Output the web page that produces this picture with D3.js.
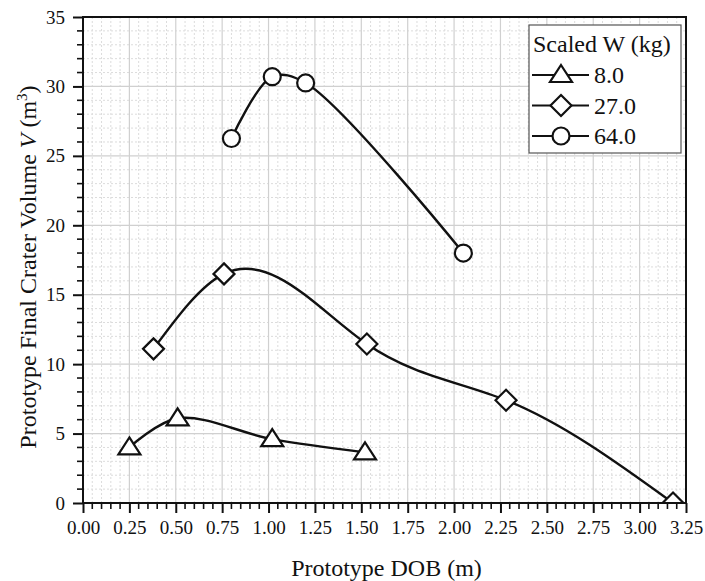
<!DOCTYPE html>
<html>
<head>
<meta charset="utf-8">
<script src="https://cdn.jsdelivr.net/npm/d3@7"></script>
<style>
  html, body { margin: 0; padding: 0; background: #fff; }
  svg { display: block; }
  text { font-family: "Liberation Serif", "Times New Roman", serif; fill: #111; }
</style>
</head>
<body>
<svg id="chart" width="705" height="581"></svg>
<script>
// Prototype DOB (m) vs. final crater volume (m^3) for three scaled charge weights
const dob8  = [0.25, 0.51, 1.02, 1.52];
const vol8  = [4.0, 6.1, 4.6, 3.65];
const dob27 = [0.38, 0.76, 1.53, 2.28, 3.18];
const vol27 = [11.1, 16.5, 11.45, 7.4, 0.0];
const dob64 = [0.80, 1.02, 1.20, 2.05];
const vol64 = [26.25, 30.7, 30.25, 18.0];

const seriesLabels = ["8.0", "27.0", "64.0"];
const seriesSymbols = ["triangle", "diamond", "circle"];
const xTickValues = [0, 0.25, 0.5, 0.75, 1, 1.25, 1.5, 1.75, 2, 2.25, 2.5, 2.75, 3, 3.25];
const yTickValues = [0, 5, 10, 15, 20, 25, 30, 35];

// Curve factory: natural cubic spline y(x), emitted as exact Bezier segments
function NaturalSplineX(context) { this._context = context; }
NaturalSplineX.prototype = {
  areaStart() {}, areaEnd() {},
  lineStart() { this._x = []; this._y = []; },
  point(px, py) { this._x.push(+px); this._y.push(+py); },
  lineEnd() {
    const X = this._x, Y = this._y, n = X.length, c = this._context;
    if (!n) return;
    c.moveTo(X[0], Y[0]);
    if (n === 2) { c.lineTo(X[1], Y[1]); return; }
    const h = [], M = new Array(n).fill(0);
    for (let i = 0; i < n - 1; i++) h.push(X[i + 1] - X[i]);
    const m = n - 2, a = [], b = [], cc = [], d = [];
    for (let i = 1; i <= m; i++) {
      a.push(h[i - 1]); b.push(2 * (h[i - 1] + h[i])); cc.push(h[i]);
      d.push(6 * ((Y[i + 1] - Y[i]) / h[i] - (Y[i] - Y[i - 1]) / h[i - 1]));
    }
    for (let i = 1; i < m; i++) {
      const w = a[i] / b[i - 1];
      b[i] -= w * cc[i - 1]; d[i] -= w * d[i - 1];
    }
    const sol = new Array(m);
    sol[m - 1] = d[m - 1] / b[m - 1];
    for (let i = m - 2; i >= 0; i--) sol[i] = (d[i] - cc[i] * sol[i + 1]) / b[i];
    for (let i = 0; i < m; i++) M[i + 1] = sol[i];
    for (let i = 0; i < n - 1; i++) {
      const s = (Y[i + 1] - Y[i]) / h[i];
      const m0 = s - h[i] * (2 * M[i] + M[i + 1]) / 6;
      const m1 = s + h[i] * (M[i] + 2 * M[i + 1]) / 6;
      c.bezierCurveTo(X[i] + h[i] / 3, Y[i] + m0 * h[i] / 3,
                      X[i + 1] - h[i] / 3, Y[i + 1] - m1 * h[i] / 3,
                      X[i + 1], Y[i + 1]);
    }
  }
};
const curveNaturalX = context => new NaturalSplineX(context);

const series = [
  { label: seriesLabels[0], symbol: seriesSymbols[0], curve: d3.curveCatmullRom.alpha(0.5), pts: dob8.map((d, i) => [d, vol8[i]]) },
  { label: seriesLabels[1], symbol: seriesSymbols[1], curve: curveNaturalX, pts: dob27.map((d, i) => [d, vol27[i]]) },
  { label: seriesLabels[2], symbol: seriesSymbols[2], curve: d3.curveCatmullRom.alpha(0.5), pts: dob64.map((d, i) => [d, vol64[i]]) }
];

const svg = d3.select("#chart");
const L = 83, R = 686, T = 17, B = 503;

const x = d3.scaleLinear().domain([0, 3.25]).range([L, R]);
const y = d3.scaleLinear().domain([0, 35]).range([B, T]);

// grid: dashed minor lines, solid light major lines
const minorX = d3.range(0, 3.2501, 0.05).filter(v => Math.abs(v / 0.25 - Math.round(v / 0.25)) > 1e-6);
const minorY = d3.range(0, 35.001, 1).filter(v => v % 5 !== 0);
const grid = svg.append("g");
grid.selectAll(".mx").data(minorX).join("line")
  .attr("x1", d => x(d)).attr("x2", d => x(d)).attr("y1", T).attr("y2", B)
  .attr("stroke", "#dcdcdc").attr("stroke-width", 1).attr("stroke-dasharray", "2,2");
grid.selectAll(".my").data(minorY).join("line")
  .attr("x1", L).attr("x2", R).attr("y1", d => y(d)).attr("y2", d => y(d))
  .attr("stroke", "#dcdcdc").attr("stroke-width", 1).attr("stroke-dasharray", "2,2");
grid.selectAll(".Mx").data(xTickValues.slice(1, -1)).join("line")
  .attr("x1", d => x(d)).attr("x2", d => x(d)).attr("y1", T).attr("y2", B)
  .attr("stroke", "#d0d0d0").attr("stroke-width", 1.2);
grid.selectAll(".My").data(yTickValues.slice(1, -1)).join("line")
  .attr("x1", L).attr("x2", R).attr("y1", d => y(d)).attr("y2", d => y(d))
  .attr("stroke", "#d0d0d0").attr("stroke-width", 1.2);

// clip for data marks
svg.append("clipPath").attr("id", "plotclip")
  .append("rect").attr("x", L).attr("y", T).attr("width", R - L).attr("height", B - T);

const symbolPath = {
  triangle: () => "M0,-10L11,7L-11,7Z",
  diamond: () => "M0,-10.5L10.5,0L0,10.5L-10.5,0Z",
  circle: () => d3.symbol().type(d3.symbolCircle).size(Math.PI * 8.5 * 8.5)()
};

const dataG = svg.append("g").attr("clip-path", "url(#plotclip)");
series.forEach(s => {
  const line = d3.line().x(d => x(d[0])).y(d => y(d[1])).curve(s.curve);
  dataG.append("path").datum(s.pts).attr("d", line)
    .attr("fill", "none").attr("stroke", "#111").attr("stroke-width", 2.4);
});
series.forEach(s => {
  dataG.selectAll(null).data(s.pts).join("path")
    .attr("transform", d => `translate(${x(d[0])},${y(d[1])})`)
    .attr("d", symbolPath[s.symbol]())
    .attr("fill", "#fff").attr("stroke", "#111").attr("stroke-width", 2.2);
});

// frame
svg.append("rect").attr("x", L).attr("y", T).attr("width", R - L).attr("height", B - T)
  .attr("fill", "none").attr("stroke", "#111").attr("stroke-width", 2);

// x axis
const xAxis = d3.axisBottom(x).tickValues(xTickValues).tickFormat(d3.format(".2f")).tickSize(10).tickPadding(8);
const gx = svg.append("g").attr("transform", `translate(0,${B})`).call(xAxis);
gx.select(".domain").remove();
gx.selectAll(".tick line").attr("stroke", "#111").attr("stroke-width", 2);
gx.selectAll(".tick text").attr("font-size", 19).attr("font-family", "Liberation Serif").attr("fill", "#111");
gx.append("g").selectAll("line").data(minorX).join("line")
  .attr("x1", d => x(d)).attr("x2", d => x(d)).attr("y1", 0).attr("y2", 6)
  .attr("stroke", "#111").attr("stroke-width", 1.6);

// y axis
const yAxis = d3.axisLeft(y).tickValues(yTickValues).tickFormat(d3.format("d")).tickSize(10).tickPadding(8);
const gy = svg.append("g").attr("transform", `translate(${L},0)`).call(yAxis);
gy.select(".domain").remove();
gy.selectAll(".tick line").attr("stroke", "#111").attr("stroke-width", 2);
gy.selectAll(".tick text").attr("font-size", 19).attr("font-family", "Liberation Serif").attr("fill", "#111");
gy.append("g").selectAll("line").data(minorY).join("line")
  .attr("x1", -6).attr("x2", 0).attr("y1", d => y(d)).attr("y2", d => y(d))
  .attr("stroke", "#111").attr("stroke-width", 1.6);

// axis titles
svg.append("text").attr("x", (L + R) / 2 + 2).attr("y", 576).attr("text-anchor", "middle")
  .attr("font-size", 24).text("Prototype DOB (m)");

const yt = svg.append("text").attr("transform", `translate(36,${(T + B) / 2 + 7}) rotate(-90)`)
  .attr("text-anchor", "middle").attr("font-size", 24);
yt.append("tspan").text("Prototype Final Crater Volume ");
yt.append("tspan").attr("font-style", "italic").text("V");
yt.append("tspan").text(" (m");
yt.append("tspan").attr("font-size", 15).attr("dy", -9).text("3");
yt.append("tspan").attr("dy", 9).text(")");

// legend
const lg = svg.append("g");
lg.append("rect").attr("x", 529).attr("y", 25).attr("width", 152).attr("height", 128)
  .attr("fill", "#fff").attr("stroke", "#555").attr("stroke-width", 1.2);
lg.append("text").attr("x", 533).attr("y", 52).attr("font-size", 24).text("Scaled W (kg)");
series.forEach((s, i) => {
  const cy = 75 + i * 30.5;
  lg.append("line").attr("x1", 532).attr("x2", 589).attr("y1", cy).attr("y2", cy)
    .attr("stroke", "#111").attr("stroke-width", 2.2);
  lg.append("path").attr("transform", `translate(561,${cy})`).attr("d", symbolPath[s.symbol]())
    .attr("fill", "#fff").attr("stroke", "#111").attr("stroke-width", 2.2);
  lg.append("text").attr("x", 594).attr("y", cy + 8).attr("font-size", 24).text(s.label);
});
</script>
</body>
</html>
